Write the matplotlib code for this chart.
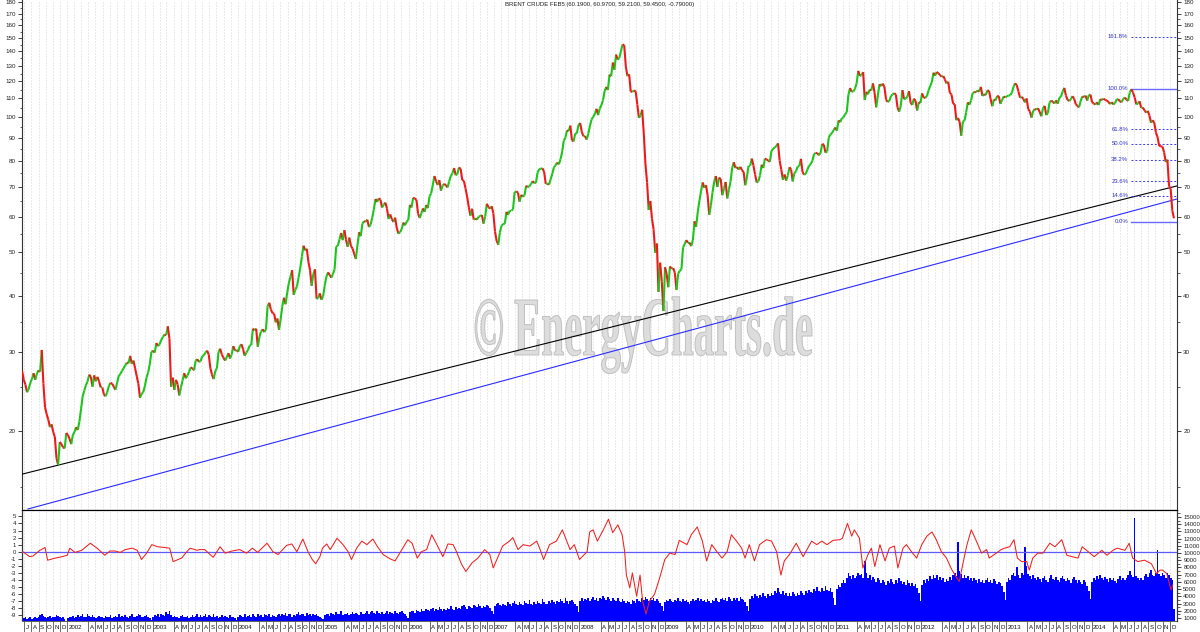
import numpy as np
import pandas as pd
import matplotlib
matplotlib.use('Agg')
import matplotlib.pyplot as plt
from matplotlib.collections import LineCollection
from matplotlib.textpath import TextPath
from matplotlib.patches import PathPatch
from matplotlib.font_manager import FontProperties
from matplotlib.transforms import Affine2D

plt.rcParams['font.family'] = ['Liberation Sans', 'DejaVu Sans']

TITLE = "BRENT CRUDE FEB5 (60.1900, 60.9700, 59.2100, 59.4500, -0.79000)"
WATERMARK = "\u00a9 EnergyCharts.de"

# ---------------- weekly closes (Friday), per year ----------------
first_week = {2001: '2001-06-22'}
price_2001 = [27.2, 26.0, 25.4, 24.4, 24.8, 25.6, 26.1, 26.9, 26.0, 26.8, 27.3, 27.1, 30.3, 25.5,
              22.6, 21.8, 21.2, 20.4, 20.7, 19.9, 19.4, 17.4, 16.8, 18.9, 18.7, 18.4, 18.3, 19.8]
price_2002 = [19.6, 19.2, 18.7, 19.6, 19.9, 20.4, 20.1, 21.0, 22.4, 23.9, 24.6, 25.3, 25.8,
              26.7, 26.4, 25.1, 26.6, 25.8, 26.4, 25.8, 25.0, 25.0, 24.1, 23.9, 24.4, 25.2,
              25.6, 25.5, 25.1, 24.7, 25.6, 26.5, 26.8, 27.2, 27.6, 28.0, 28.4, 28.3, 29.4,
              28.2, 28.7, 27.6, 26.5, 25.5, 23.7, 24.2, 24.4, 25.2, 26.3, 27.0, 28.2, 30.0]
price_2003 = [30.2, 29.9, 31.4, 30.9, 31.2, 31.9, 32.4, 32.8, 32.7, 34.2, 32.1, 25.1, 26.3,
              24.7, 26.0, 25.4, 24.0, 25.0, 25.9, 26.9, 26.2, 26.6, 27.1, 27.7, 27.6, 27.3,
              28.7, 28.9, 28.5, 28.6, 29.3, 29.5, 29.9, 30.2, 29.6, 27.6, 26.7, 26.1, 27.2,
              27.6, 30.0, 30.5, 29.6, 29.1, 28.7, 29.2, 29.8, 29.0, 29.6, 30.9, 30.2, 30.3]
price_2004 = [30.0, 30.9, 31.2, 30.4, 29.4, 29.9, 30.3, 31.0, 31.1, 33.8, 33.5, 33.8, 30.8,
              32.4, 33.3, 33.7, 33.2, 33.7, 37.9, 38.6, 37.3, 36.6, 36.5, 34.9, 35.6, 33.6,
              35.5, 37.9, 39.6, 38.3, 40.6, 42.7, 44.1, 45.6, 40.2, 41.3, 42.0, 44.0, 46.1,
              48.9, 51.7, 50.5, 50.9, 47.6, 45.6, 42.1, 44.7, 45.8, 39.4, 39.5, 40.5, 39.2, 39.9]
price_2005 = [42.2, 44.1, 45.1, 44.5, 43.9, 44.7, 45.8, 51.5, 51.7, 53.4, 55.2, 53.2,
              56.0, 53.3, 51.4, 53.9, 51.6, 51.0, 49.6, 48.3, 51.9, 55.4, 54.3, 57.9, 58.6,
              58.5, 59.1, 56.9, 57.6, 59.7, 62.3, 65.7, 64.7, 65.9, 65.5, 62.9, 63.8, 64.5, 62.6,
              59.3, 60.7, 59.2, 58.4, 59.7, 56.6, 55.0, 55.4, 56.3, 58.2, 57.4, 58.5, 58.9]
price_2006 = [63.7, 62.9, 66.1, 65.9, 65.4, 61.0, 59.6, 61.0, 62.6, 61.5, 63.7, 62.7, 66.6,
              67.6, 70.6, 73.9, 71.9, 70.6, 72.4, 68.6, 70.4, 71.0, 70.5, 69.7, 71.9, 73.9,
              74.9, 77.0, 74.2, 74.7, 77.2, 76.7, 72.4, 72.1, 69.3, 66.4, 63.0, 60.3, 62.5,
              59.1, 59.5, 59.1, 60.0, 60.2, 60.5, 57.9, 60.1, 64.1, 63.0, 62.5, 63.3, 61.0]
price_2007 = [55.6, 53.0, 52.0, 55.4, 57.3, 57.8, 57.9, 61.5, 60.6, 61.9, 61.9, 62.3, 68.1,
              68.3, 67.9, 64.8, 67.1, 66.5, 66.9, 70.3, 69.8, 70.1, 70.9, 72.0, 71.3, 71.4,
              75.2, 76.6, 76.7, 76.9, 75.5, 71.0, 71.1, 70.7, 72.7, 74.8, 77.3, 78.1, 79.2,
              78.5, 80.5, 83.6, 88.6, 90.0, 93.4, 93.1, 95.7, 88.7, 88.3, 91.9, 92.0, 96.0]
price_2008 = [97.0, 92.7, 90.6, 90.7, 89.1, 91.8, 95.6, 98.8, 100.1, 101.6, 104.3, 101.0, 104.4,
              106.3, 108.9, 114.2, 116.7, 114.9, 124.3, 123.3, 132.2, 127.5, 137.7, 134.2, 135.4,
              140.2, 145.1, 144.5, 129.3, 123.3, 124.5, 113.9, 113.8, 114.6, 114.1, 106.7, 99.6,
              100.8, 103.8, 91.7, 78.6, 71.5, 62.1, 65.0, 59.4, 56.2, 49.9, 52.3, 40.8, 47.4, 43.0, 37.0]
price_2009 = [46.3, 44.7, 41.8, 46.5, 45.9, 46.1, 45.0, 41.2, 44.8, 45.5, 45.8, 51.2, 52.2,
              53.2, 52.5, 52.5, 51.6, 53.2, 58.6, 57.0, 61.5, 65.1, 68.4, 71.5, 69.6, 70.5,
              67.0, 60.6, 63.6, 68.0, 71.7, 73.9, 69.9, 73.3, 72.8, 67.0, 69.3, 71.7, 65.9,
              68.9, 71.8, 77.0, 79.3, 77.0, 77.4, 76.4, 77.5, 76.1, 75.5, 70.5, 73.5, 77.9]
price_2010 = [77.9, 80.8, 78.0, 74.5, 71.5, 71.9, 74.1, 78.3, 77.0, 80.8, 80.5, 80.0, 79.5,
              84.0, 85.0, 85.5, 86.2, 87.4, 80.0, 76.4, 72.5, 74.5, 72.2, 74.1, 77.3, 76.4,
              71.9, 75.0, 75.7, 77.6, 77.7, 80.7, 75.4, 74.4, 74.8, 76.5, 77.9, 78.6, 79.9,
              82.7, 83.2, 83.1, 82.2, 83.2, 87.1, 86.8, 83.3, 83.8, 90.0, 91.4, 92.2, 93.5, 94.8]
price_2011 = [93.3, 98.3, 97.4, 99.4, 99.8, 101.4, 102.5, 112.1, 116.0, 113.8, 114.0, 115.6,
              118.7, 126.7, 123.5, 123.9, 125.9, 109.1, 113.8, 112.4, 115.1, 114.6, 118.8, 113.2,
              105.1, 111.9, 118.3, 117.2, 118.7, 116.7, 109.4, 108.0, 108.6, 111.4, 112.3, 113.0,
              112.2, 105.0, 102.8, 105.9, 114.8, 109.6, 109.9, 111.0, 114.2, 107.6, 106.4,
              109.9, 108.6, 103.4, 107.9, 107.4]
price_2012 = [112.9, 110.4, 110.3, 111.5, 114.6, 117.3, 119.6, 125.5, 123.6, 126.0, 125.1, 124.0,
              122.9, 123.4, 121.2, 118.8, 119.8, 113.2, 112.3, 107.1, 106.8, 98.4, 99.5, 97.6,
              90.9, 97.8, 98.2, 102.4, 107.8, 106.5, 108.9, 113.0, 113.7, 113.6, 114.6, 113.9,
              116.7, 111.4, 112.4, 111.9, 114.6, 114.4, 109.6, 105.7, 109.4, 108.9, 111.4, 111.2,
              107.0, 109.2, 111.1, 110.6]
price_2013 = [111.3, 111.6, 111.9, 113.3, 116.8, 118.9, 117.7, 114.0, 110.4, 110.9, 109.8, 107.8,
              110.0, 104.1, 102.9, 99.7, 103.2, 104.2, 103.9, 104.6, 102.6, 100.4, 104.6, 105.9,
              101.0, 102.2, 107.7, 108.8, 108.1, 107.2, 108.9, 107.1, 110.4, 111.0, 114.0, 116.1,
              111.7, 109.2, 108.6, 109.5, 111.3, 109.9, 106.9, 105.9, 105.1, 108.5, 111.1, 110.8,
              111.6, 108.8, 111.8, 112.2]
price_2014 = [107.8, 107.3, 106.5, 107.9, 106.4, 109.6, 109.1, 109.9, 109.1, 108.9, 108.0, 106.9,
              107.9, 106.7, 107.3, 109.5, 109.6, 108.3, 107.9, 109.8, 110.5, 109.4, 108.6, 113.4,
              115.3, 113.3, 110.6, 106.7, 107.2, 108.4, 104.8, 105.0, 103.5, 102.3, 103.2, 100.8,
              97.1, 98.4, 97.0, 92.3, 90.2, 86.2, 86.1, 85.9, 83.4, 79.4, 80.4, 70.2, 69.1, 61.9, 59.5]

# ---------------- weekly volume (thousands of contracts) ----------------
vol_2001 = [1.1, 1.0, 1.2, 0.9, 1.0, 1.1, 0.9, 1.0, 1.2, 1.0, 1.1, 1.4, 1.6, 1.3, 1.2, 1.0, 1.1, 1.3,
            1.0, 1.2, 1.1, 1.4, 1.3, 1.2, 1.0, 1.1, 0.9, 0.6]
vol_2002 = [1.0, 1.2, 1.1, 1.3, 1.0, 1.2, 1.4, 1.1, 1.3, 1.5, 1.2, 1.1, 1.6, 1.3, 1.2, 1.4, 1.1, 1.0,
            1.2, 1.3, 1.1, 1.2, 1.0, 1.3, 1.1, 1.2, 1.4, 1.0, 1.2, 1.3, 1.1, 1.5, 1.2, 1.3, 1.1, 1.4,
            1.2, 1.0, 1.3, 1.5, 1.2, 1.1, 1.3, 1.6, 1.4, 1.2, 1.1, 1.3, 1.4, 1.2, 1.0, 0.7]
vol_2003 = [1.2, 1.4, 1.3, 1.5, 1.2, 1.6, 1.4, 1.3, 1.8, 1.5, 1.9, 1.4, 1.2, 1.3, 1.1, 1.2, 1.0, 1.3,
            1.4, 1.2, 1.1, 1.3, 1.0, 1.2, 1.4, 1.1, 1.3, 1.5, 1.2, 1.4, 1.1, 1.3, 1.6, 1.2, 1.4, 1.3,
            1.1, 1.5, 1.2, 1.3, 1.0, 1.2, 1.4, 1.1, 1.3, 1.2, 1.0, 1.4, 1.2, 1.1, 1.0, 0.7]
vol_2004 = [1.2, 1.4, 1.3, 1.1, 1.5, 1.2, 1.3, 1.4, 1.2, 1.6, 1.3, 1.2, 1.5, 1.3, 1.4, 1.2, 1.6, 1.4,
            1.3, 1.5, 1.2, 1.4, 1.3, 1.1, 1.4, 1.6, 1.3, 1.5, 1.4, 1.7, 1.3, 1.5, 1.6, 1.2, 1.4, 1.3,
            1.5, 1.8, 1.4, 1.6, 1.5, 1.3, 1.7, 1.4, 1.6, 1.3, 1.5, 1.4, 1.6, 1.3, 1.2, 1.0, 0.8]
vol_2005 = [1.4, 1.6, 1.5, 1.3, 1.7, 1.5, 1.4, 1.8, 1.6, 1.5, 1.9, 1.4, 1.6, 1.5, 1.7, 1.4, 1.6, 1.8,
            1.5, 1.7, 1.6, 1.4, 1.8, 1.6, 1.5, 1.7, 1.9, 1.6, 1.8, 2.0, 1.7, 1.6, 1.9, 1.7, 1.5, 1.8,
            1.6, 1.7, 1.9, 1.6, 1.8, 1.7, 1.5, 1.9, 1.7, 1.6, 1.8, 2.0, 1.7, 1.5, 1.3, 1.0]
vol_2006 = [1.8, 2.0, 1.9, 1.7, 2.1, 1.9, 1.8, 2.2, 2.0, 1.9, 2.3, 2.1, 1.9, 2.2, 2.4, 2.0, 2.3, 2.1,
            2.5, 2.2, 2.0, 2.3, 2.1, 2.4, 2.2, 2.6, 2.3, 2.1, 2.5, 2.3, 2.4, 2.2, 2.6, 2.8, 2.5, 2.3,
            2.7, 2.5, 2.4, 2.8, 2.6, 2.5, 2.9, 2.6, 2.4, 2.7, 2.5, 2.8, 2.6, 2.4, 2.0, 1.5]
vol_2007 = [2.6, 2.9, 3.1, 2.8, 2.7, 3.0, 2.8, 2.6, 3.2, 2.9, 2.7, 3.1, 3.4, 2.9, 2.8, 3.2, 3.0, 2.8,
            3.3, 3.1, 2.9, 3.5, 3.0, 2.8, 3.2, 3.0, 3.4, 3.1, 2.9, 3.6, 3.2, 3.0, 2.9, 3.3, 3.1, 3.5,
            3.2, 3.0, 3.4, 3.2, 3.6, 3.3, 3.1, 3.7, 3.4, 3.0, 3.3, 3.5, 3.2, 3.0, 2.6, 1.8]
vol_2008 = [3.4, 3.7, 3.3, 3.6, 3.5, 3.8, 3.4, 3.6, 3.9, 3.5, 3.7, 3.4, 3.8, 3.6, 4.0, 3.7, 3.5, 3.9,
            3.6, 3.4, 3.8, 3.5, 3.3, 3.7, 3.4, 3.2, 3.6, 3.3, 3.1, 3.4, 3.2, 3.0, 3.5, 3.3, 3.1, 3.6,
            3.4, 3.2, 3.8, 3.5, 3.9, 3.6, 3.3, 3.7, 3.5, 3.8, 3.4, 3.6, 3.3, 3.1, 2.6, 1.9]
vol_2009 = [3.2, 3.5, 3.3, 3.6, 3.4, 3.2, 3.5, 3.3, 3.7, 3.4, 3.2, 3.6, 3.3, 3.5, 3.2, 3.0, 3.4, 3.6,
            3.3, 3.5, 3.8, 3.4, 3.6, 3.3, 3.5, 3.2, 3.6, 3.4, 3.1, 3.5, 3.3, 3.7, 3.4, 3.2, 3.6, 3.8,
            3.5, 3.7, 3.4, 3.9, 3.6, 3.4, 3.8, 3.5, 3.7, 3.4, 3.9, 3.6, 3.5, 3.2, 2.7, 2.0]
vol_2010 = [3.6, 4.1, 3.8, 4.3, 4.0, 3.7, 4.2, 3.9, 4.4, 4.1, 3.8, 4.3, 4.0, 4.5, 4.2, 4.7, 4.4, 5.2,
            4.6, 4.3, 4.8, 4.2, 4.5, 4.1, 4.4, 4.0, 4.6, 4.3, 4.1, 4.5, 4.2, 4.7, 4.4, 4.2, 4.8, 4.5,
            4.9, 4.6, 4.4, 5.0, 4.7, 5.3, 4.8, 4.6, 5.1, 4.8, 5.5, 4.9, 4.7, 5.2, 4.6, 3.8, 2.8]
vol_2011 = [5.0, 5.6, 5.3, 5.9, 6.3, 5.8, 6.6, 7.2, 6.8, 6.4, 7.0, 6.5, 6.8, 7.3, 6.9, 7.1, 6.6, 8.9,
            7.2, 6.5, 6.9, 6.3, 6.7, 6.4, 6.0, 6.5, 6.2, 5.8, 6.3, 6.0, 5.6, 6.1, 5.8, 6.4, 6.0, 5.7,
            6.2, 5.9, 6.5, 6.1, 5.7, 6.0, 5.6, 6.2, 5.9, 5.5, 5.8, 5.4, 5.7, 5.2, 4.5, 3.4]
vol_2012 = [5.6, 6.2, 5.8, 6.4, 6.1, 6.8, 6.4, 7.0, 6.6, 6.9, 6.3, 6.7, 6.2, 6.5, 6.0, 6.4, 6.1, 6.7,
            6.3, 6.9, 7.2, 6.8, 11.6, 7.5, 7.1, 6.6, 7.0, 6.5, 6.8, 6.3, 6.6, 6.1, 6.5, 6.2, 5.9, 6.4,
            6.0, 6.3, 5.8, 6.2, 6.5, 6.0, 6.3, 5.9, 6.4, 6.1, 5.7, 6.0, 5.8, 5.4, 4.6, 3.5]
vol_2013 = [6.0, 6.6, 6.3, 6.9, 7.2, 6.8, 8.0, 7.0, 6.6, 7.3, 6.9, 10.8, 8.2, 7.1, 6.8, 6.4, 6.9, 6.5,
            6.2, 6.7, 6.4, 6.0, 6.5, 6.8, 6.3, 6.0, 6.6, 6.9, 6.4, 6.2, 6.7, 6.3, 6.0, 6.5, 6.8, 6.4,
            6.1, 6.6, 6.3, 5.9, 6.4, 6.7, 6.2, 5.9, 6.3, 6.0, 5.7, 6.2, 6.0, 5.5, 4.8, 3.6]
vol_2014 = [6.0, 6.5, 6.2, 6.8, 6.4, 6.9, 6.5, 6.2, 6.7, 6.4, 6.0, 6.5, 6.3, 6.6, 6.1, 5.9, 6.4, 6.8,
            6.3, 6.6, 6.2, 6.5, 6.9, 7.5, 7.0, 6.7, 14.9, 6.8, 6.5, 6.2, 6.6, 6.3, 6.8, 7.1, 6.7, 7.3,
            7.6, 7.0, 6.8, 7.2, 10.4, 7.1, 6.8, 7.3, 7.0, 6.6, 7.2, 6.9, 6.5, 6.3, 2.2]

prices = {2001: price_2001, 2002: price_2002, 2003: price_2003, 2004: price_2004, 2005: price_2005,
          2006: price_2006, 2007: price_2007, 2008: price_2008, 2009: price_2009, 2010: price_2010,
          2011: price_2011, 2012: price_2012, 2013: price_2013, 2014: price_2014}
volumes = {2001: vol_2001, 2002: vol_2002, 2003: vol_2003, 2004: vol_2004, 2005: vol_2005,
           2006: vol_2006, 2007: vol_2007, 2008: vol_2008, 2009: vol_2009, 2010: vol_2010,
           2011: vol_2011, 2012: vol_2012, 2013: vol_2013, 2014: vol_2014}

# ---------------- oscillator (decimal year, value) ----------------
osc_year = [2001.48, 2001.56, 2001.60, 2001.68, 2001.74, 2001.77, 2001.86, 2001.94, 2002.00, 2002.03,
            2002.09, 2002.17, 2002.27, 2002.35, 2002.44, 2002.50, 2002.56, 2002.62, 2002.68, 2002.76,
            2002.82, 2002.87, 2002.93, 2002.99, 2003.06, 2003.14, 2003.20, 2003.24, 2003.34, 2003.40,
            2003.44, 2003.52, 2003.55, 2003.61, 2003.71, 2003.79, 2003.85, 2003.93, 2004.02, 2004.10,
            2004.17, 2004.23, 2004.34, 2004.41, 2004.47, 2004.57, 2004.63, 2004.69, 2004.76, 2004.82,
            2004.87, 2004.91, 2004.96, 2004.99, 2005.04, 2005.08, 2005.16, 2005.23, 2005.29, 2005.33,
            2005.39, 2005.45, 2005.51, 2005.58, 2005.63, 2005.70, 2005.78, 2005.84, 2005.92, 2005.99,
            2006.04, 2006.10, 2006.15, 2006.21, 2006.27, 2006.33, 2006.40, 2006.46, 2006.52, 2006.56,
            2006.62, 2006.67, 2006.74, 2006.81, 2006.89, 2006.95, 2006.99, 2007.04, 2007.10, 2007.18,
            2007.22, 2007.28, 2007.34, 2007.42, 2007.50, 2007.54, 2007.58, 2007.65, 2007.73, 2007.80,
            2007.89, 2007.94, 2008.00, 2008.09, 2008.12, 2008.16, 2008.21, 2008.28, 2008.34, 2008.39,
            2008.45, 2008.50, 2008.53, 2008.55, 2008.59, 2008.62, 2008.67, 2008.71, 2008.74, 2008.78,
            2008.82, 2008.88, 2008.94, 2009.00, 2009.06, 2009.12, 2009.17, 2009.26, 2009.31, 2009.38,
            2009.44, 2009.49, 2009.55, 2009.61, 2009.67, 2009.73, 2009.78, 2009.84, 2009.90, 2009.94,
            2009.99, 2010.05, 2010.11, 2010.19, 2010.25, 2010.31, 2010.36, 2010.40, 2010.46, 2010.54,
            2010.62, 2010.72, 2010.78, 2010.84, 2010.90, 2010.97, 2011.05, 2011.08, 2011.14, 2011.19,
            2011.22, 2011.28, 2011.32, 2011.38, 2011.42, 2011.46, 2011.52, 2011.58, 2011.63, 2011.69,
            2011.73, 2011.79, 2011.83, 2011.89, 2011.95, 2012.01, 2012.07, 2012.13, 2012.18, 2012.24,
            2012.30, 2012.36, 2012.42, 2012.45, 2012.49, 2012.54, 2012.59, 2012.65, 2012.71, 2012.77,
            2012.80, 2012.86, 2012.94, 2012.98, 2013.04, 2013.09, 2013.13, 2013.18, 2013.24, 2013.27,
            2013.31, 2013.37, 2013.43, 2013.51, 2013.57, 2013.65, 2013.71, 2013.77, 2013.84, 2013.89,
            2013.98, 2014.03, 2014.12, 2014.18, 2014.25, 2014.30, 2014.39, 2014.44, 2014.48, 2014.54,
            2014.62, 2014.70, 2014.76, 2014.80, 2014.83, 2014.88, 2014.91, 2014.93, 2014.95]
osc_value = [0.0, -0.7, -0.6, 0.2, 0.6, -1.2, -0.9, -0.7, -0.5, 0.5,
             -0.1, 0.2, 1.2, 0.5, -0.5, 0.1, 0.1, -0.1, 0.3, 0.5,
             0.2, -1.1, -0.2, 1.0, 0.7, 0.6, 0.5, -1.4, -0.9, 0.0,
             0.5, 0.2, 0.3, 0.3, -0.8, 0.7, -0.2, 0.1, 0.3, -0.2,
             0.5, -0.1, 1.2, 0.0, -0.4, 0.9, 1.1, 0.0, 1.8, 0.0,
             -1.1, -1.7, -0.7, 0.5, 1.1, 0.3, 1.9, 1.0, 0.0, -1.1,
             0.5, 1.5, 1.0, 1.8, 0.8, -0.4, -1.0, -1.3, 0.3, 1.7,
             1.2, -0.9, 0.0, 0.3, 2.4, 1.0, -0.7, 1.1, 1.0, 0.0,
             -1.8, -2.8, -1.6, -0.9, 0.3, -0.4, -2.3, -0.9, 0.8, 1.5,
             2.0, 0.3, 1.0, 0.8, 1.5, 0.3, -1.1, 1.0, 1.5, 3.1,
             0.3, 1.0, -1.1, 0.0, 2.8, 3.1, 1.5, 3.1, 4.6, 2.7,
             3.8, 2.4, 0.0, -3.3, -5.1, -3.0, -6.3, -3.3, -7.0, -8.8,
             -7.0, -6.0, -3.7, -1.1, -0.2, -0.4, 1.6, 1.0, 2.4, 3.5,
             1.5, -1.3, 1.0, 0.0, -0.9, 0.0, 2.4, 1.5, 0.5, -0.9,
             1.0, -1.3, 1.0, 1.7, 1.5, 0.0, -3.3, -1.3, -0.4, 1.2,
             -0.7, 1.5, 1.0, 1.5, 1.0, 1.6, 1.7, 1.9, 4.0, 2.2,
             3.1, 1.9, -2.3, -0.4, 0.5, -2.1, 1.0, -1.3, 0.5, 0.8,
             -2.3, 0.5, 1.0, 0.0, -0.9, 1.0, 2.2, 2.8, 1.7, 0.0,
             -0.9, -2.5, -3.7, -4.2, -1.8, 1.0, 3.1, 1.5, -0.2, 0.3,
             -0.9, -0.4, 0.3, 0.5, 0.7, 1.7, -0.9, -1.4, -1.4, -2.6,
             -0.9, -0.2, -0.2, 1.2, 0.7, 1.7, -0.5, -0.7, -0.9, 0.7,
             -0.2, -0.7, 0.2, -0.5, 0.2, 0.5, 0.2, 1.2, -0.9, -1.4,
             -1.2, -1.7, -3.1, -2.6, -2.6, -3.1, -4.5, -5.4, -4.7]

# ---------------- trend lines and Fibonacci retracement ----------------
trend_black_x = [2001.47, 2015.0]
trend_black_y = [16.03, 70.25]
trend_blue_x = [2001.54, 2015.0]
trend_blue_y = [13.41, 65.7]
fib_high = 115.7
fib_low = 58.5
fib_start = 2014.46
fib_ratios = [1.618, 1.0, 0.618, 0.5, 0.382, 0.236, 0.146, 0.0]
fib_labels = ['161.8%', '100.0%', '61.8%', '50.0%', '38.2%', '23.6%', '14.6%', '0.0%']

price_ticks = [20, 30, 40, 50, 60, 70, 80, 90, 100, 110, 120, 130, 140, 150, 160, 170, 180]
osc_ticks = [5, 4, 3, 2, 1, 0, -1, -2, -3, -4, -5, -6, -7, -8, -9]
vol_ticks = [1000, 2000, 3000, 4000, 5000, 6000, 7000, 8000, 9000, 10000, 11000, 12000, 13000,
             14000, 15000]
month_letters = ['J', 'F', 'M', 'A', 'M', 'J', 'J', 'A', 'S', 'O', 'N', 'D']

X0, X1 = 2001.47, 2015.0


def dec_year(d):
    d = pd.Timestamp(d)
    ndays = 366 if d.is_leap_year else 365
    return d.year + (d.dayofyear - 1) / ndays


# build series
px, pp, vx, vv = [], [], [], []
for yr in sorted(prices):
    start = first_week.get(yr, f'{yr}-01-01')
    dates = pd.date_range(start, periods=len(prices[yr]), freq='W-FRI')
    xs = [dec_year(d) for d in dates]
    px += xs
    pp += prices[yr]
    n = min(len(xs), len(volumes[yr]))
    vx += xs[:n]
    vv += [v * 1000 for v in volumes[yr][:n]]
px = np.array(px); pp = np.array(pp)

fig = plt.figure(figsize=(12, 6.32), dpi=100, facecolor='white')
W, H = 1200.0, 632.0
ax = fig.add_axes([22 / W, 1 - 510 / H, (1177 - 22) / W, 510 / H])
axv = fig.add_axes([22 / W, 1 - 621 / H, (1177 - 22) / W, 111 / H])
axo = axv.twinx()
axl = fig.add_axes([22 / W, 0, (1177 - 22) / W, 11 / H])

grid_kw = dict(color='#cdcdcd', lw=0.6, ls=(0, (1.2, 2.4)), zorder=0)
month_starts = []
for yr in range(2001, 2015):
    for m in range(1, 13):
        if yr == 2001 and m < 7:
            continue
        month_starts.append((yr, m, dec_year(f'{yr}-{m:02d}-01')))
for (_, _, xm) in month_starts:
    ax.axvline(xm, **grid_kw)
    axv.axvline(xm, **grid_kw)

# --- main price panel ---
ax.set_yscale('log')
ax.set_xlim(X0, X1)
ax.set_ylim(13.34, 182.2)
pts = np.column_stack([px, pp])
segs = np.stack([pts[:-1], pts[1:]], axis=1)
cols = ['#1cc41c' if pp[i + 1] >= pp[i] else '#ee1a1a' for i in range(len(pp) - 1)]
ax.add_collection(LineCollection(segs, colors=cols, linewidths=1.5, zorder=4))

ax.plot(trend_black_x, trend_black_y, color='black', lw=0.8, zorder=3)
ax.plot(trend_blue_x, trend_blue_y, color='#2b2bff', lw=0.8, zorder=3)

for r, lab in zip(fib_ratios, fib_labels):
    lvl = fib_low + r * (fib_high - fib_low)
    if r in (0.0, 1.0):
        ax.plot([fib_start, X1], [lvl, lvl], color='#6a6aff', lw=1.0, zorder=3)
    else:
        ax.plot([fib_start, X1], [lvl, lvl], color='#3a3aff', lw=0.7, ls=(0, (2, 2)), zorder=3)
    ax.text(fib_start - 0.03, lvl, lab, ha='right', va='center', fontsize=4.3, color='#3030c8',
            zorder=5)

ax.set_xticks([])
ax.yaxis.set_major_locator(matplotlib.ticker.FixedLocator(price_ticks))
ax.yaxis.set_major_formatter(matplotlib.ticker.FixedFormatter([str(t) for t in price_ticks]))
ax.yaxis.set_minor_locator(matplotlib.ticker.FixedLocator([15, 25, 35, 45, 55, 65, 75, 85, 95, 105,
                                                            115, 125, 135, 145, 155, 165, 175]))
ax.yaxis.set_minor_formatter(matplotlib.ticker.NullFormatter())
ax.tick_params(axis='y', which='major', labelsize=4.5, length=3, width=0.6, pad=1.5,
               left=True, right=True, labelleft=True, labelright=True, colors='#222222')
ax.tick_params(axis='y', which='minor', length=1.8, width=0.5, left=True, right=True,
               colors='#222222')
for s in ['left', 'right']:
    ax.spines[s].set_color('#333333'); ax.spines[s].set_linewidth(0.8)
ax.spines['top'].set_visible(False)
ax.spines['bottom'].set_color('black'); ax.spines['bottom'].set_linewidth(0.8)
fig.text(600 / W, 1 - 4.5 / H, TITLE, ha='center', va='center', fontsize=4.3, color='#222222')

# watermark
fp = FontProperties(family='Liberation Serif', weight='bold')
tp = TextPath((0, 0), WATERMARK, size=1, prop=fp)
ext = tp.get_extents()
capE = TextPath((0, 0), 'E', size=1, prop=fp).get_extents()
sx = 337 / ext.width
sy = 55 / capE.height
tr = Affine2D().translate(-ext.x0, 0).scale(sx, sy).translate(475, H - 355)
wm = PathPatch(tp, transform=tr, facecolor='#dadada', edgecolor='#bcbcbc', lw=0.7,
               alpha=0.9, zorder=1)
ax.add_artist(wm)

# --- lower panel: volume + oscillator ---
axv.bar(vx, vv, width=7 / 365.0, color='#0000ff', align='center', linewidth=0, zorder=2)
axv.set_xlim(X0, X1)
axv.set_ylim(580, 15970)
axv.set_xticks([])
axv.yaxis.tick_right()
axv.set_yticks(vol_ticks)
axv.set_yticklabels([str(t) for t in vol_ticks])
axv.yaxis.set_minor_locator(matplotlib.ticker.MultipleLocator(500))
axv.tick_params(axis='y', which='major', labelsize=4.3, length=3, width=0.6, pad=1.5,
                colors='#222222')
axv.tick_params(axis='y', which='minor', length=1.8, width=0.5, colors='#222222')

axo.plot(osc_year, osc_value, color='#f02020', lw=0.75, zorder=4)
axo.axhline(0, color='#5c5cff', lw=0.9, zorder=3)
axo.set_xlim(X0, X1)
axo.set_ylim(-9.8, 5.9)
axo.yaxis.tick_left()
axo.set_yticks(osc_ticks)
axo.set_yticklabels([str(t) for t in osc_ticks])
axo.tick_params(axis='y', labelsize=4.3, length=3, width=0.6, pad=1.5, colors='#222222')
for a in (axv, axo):
    for s in ['left', 'right']:
        a.spines[s].set_color('#333333'); a.spines[s].set_linewidth(0.8)
    a.spines['top'].set_color('black'); a.spines['top'].set_linewidth(0.8)
    a.spines['bottom'].set_visible(False)

# --- month label strip ---
axl.set_xlim(X0, X1)
axl.set_ylim(0, 1)
axl.set_xticks([]); axl.set_yticks([])
for s in axl.spines.values():
    s.set_visible(False)
axl.axhline(1, color='#444444', lw=0.6)
for i, (yr, m, xm) in enumerate(month_starts):
    nxt = month_starts[i + 1][2] if i + 1 < len(month_starts) else X1
    if m == 1:
        axl.text(xm + 0.012, 0.42, str(yr), ha='left', va='center', fontsize=4.4, color='#111111')
    elif m in (2, 3):
        continue
    else:
        axl.text((xm + nxt) / 2, 0.42, month_letters[m - 1], ha='center', va='center',
                 fontsize=4.4, color='#111111')
    axl.plot([xm, xm], [0, 1], color='#555555', lw=0.6)

fig.savefig('out.png', dpi=100, facecolor='white')
